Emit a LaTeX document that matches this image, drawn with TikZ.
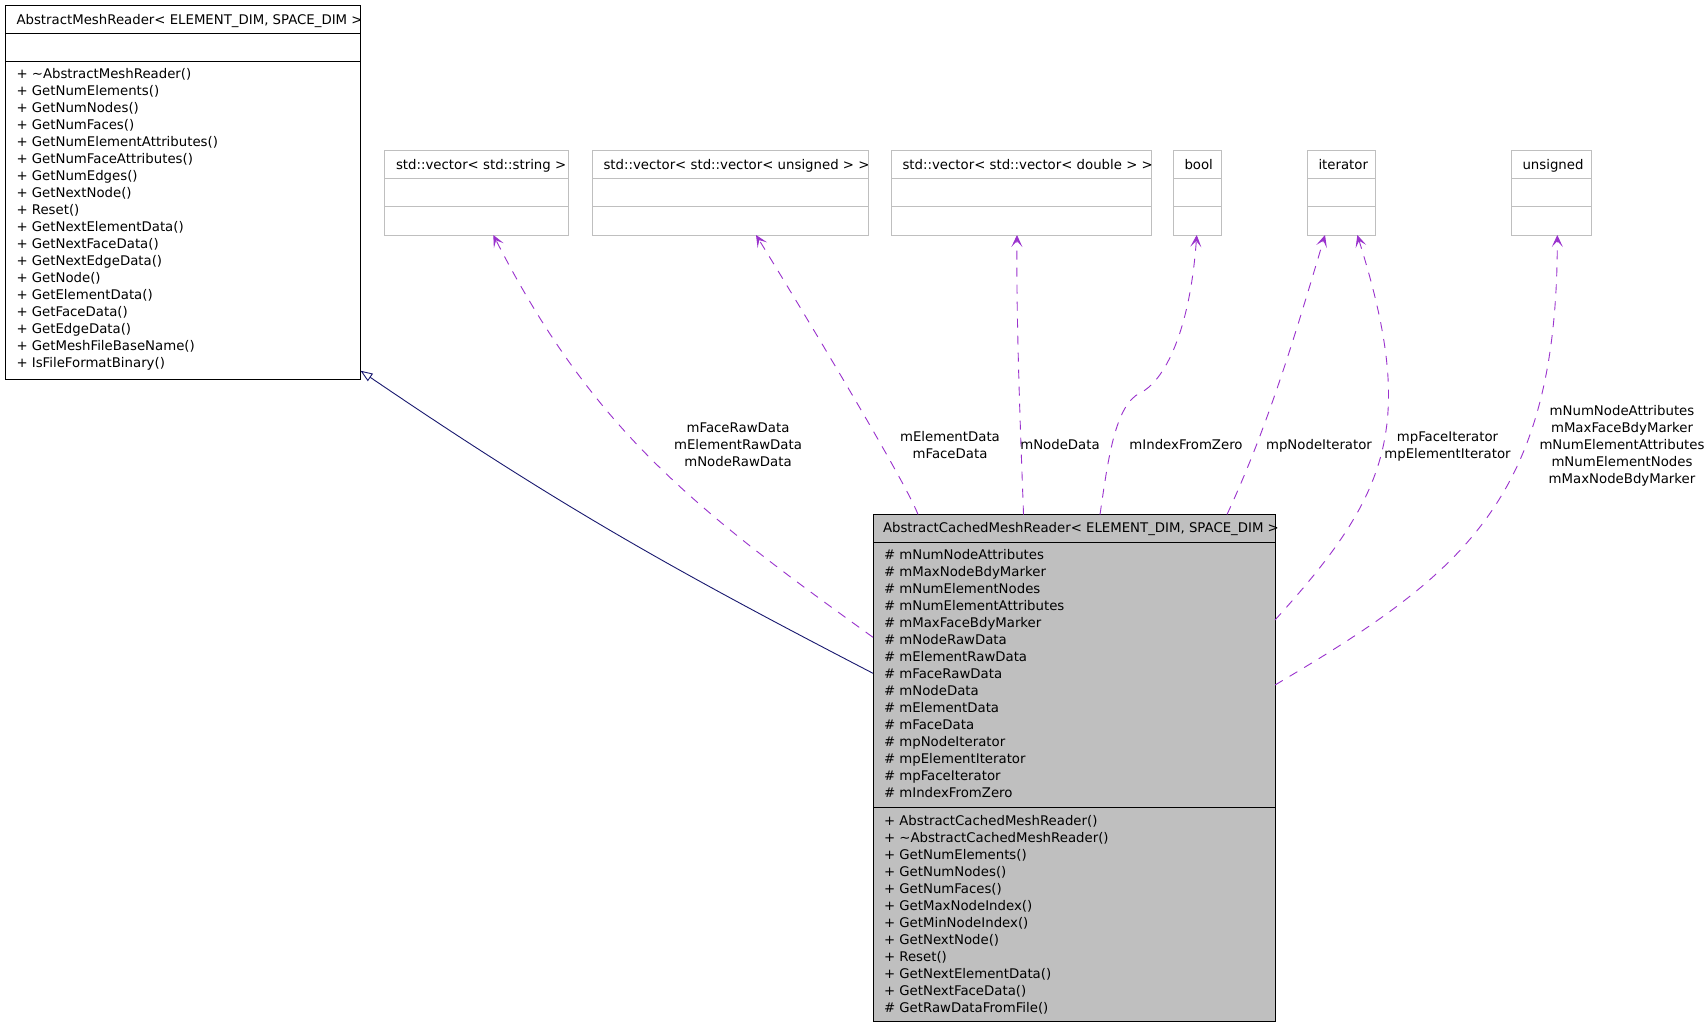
\documentclass[tikz,border=0pt]{standalone}
\usepackage{fontspec}
\setmainfont{DejaVu Sans}
\usetikzlibrary{arrows.meta}
\definecolor{orchid3}{RGB}{154,50,205}
\definecolor{mnblue}{RGB}{25,25,112}
\definecolor{grey75}{RGB}{191,191,191}
\begin{document}
\begin{tikzpicture}[x=1pt,y=-1pt,
  every node/.style={inner sep=0pt, outer sep=0pt, font=\fontsize{13.3}{17}\selectfont},
  classbox/.style={draw=black, line width=1pt, anchor=north west},
  mainbox/.style={classbox, fill=grey75},
  typebox/.style={draw=grey75, line width=1pt, anchor=north west, minimum height=84pt},
  divider/.style={line width=1pt},
  typediv/.style={draw=grey75, line width=1pt},
  hdr/.style={anchor=base west},
  members/.style={anchor=north west, align=left},
  lbl/.style={anchor=north, align=center},
  inh/.style={draw=mnblue, line width=0.9pt, -{Triangle[open, length=12pt, width=9pt, fill=white]}},
  use/.style={draw=orchid3, line width=0.9pt, dash pattern=on 9pt off 8pt, -{Stealth[length=12pt, width=11pt, inset=6pt, line width=0.9pt]}}
]
\useasboundingbox (0,0) rectangle (1707,1027);
\fill[white] (0,0) rectangle (1707,1027);

% ---------- AbstractMeshReader ----------
\node[classbox, minimum width=355pt, minimum height=373pt] (amr) at (5.5,6) {};
\draw[divider] (amr.west |- 0,34) -- (amr.east |- 0,34);
\draw[divider] (amr.west |- 0,62) -- (amr.east |- 0,62);
\node[hdr] (amrh) at (16.5,24.8) {AbstractMeshReader< ELEMENT\_DIM, SPACE\_DIM >};
\node[members] (amrm) at (16.5,66.8) {\rule{0pt}{12pt}+ \textasciitilde AbstractMeshReader()\\
+ GetNumElements()\\
+ GetNumNodes()\\
+ GetNumFaces()\\
+ GetNumElementAttributes()\\
+ GetNumFaceAttributes()\\
+ GetNumEdges()\\
+ GetNextNode()\\
+ Reset()\\
+ GetNextElementData()\\
+ GetNextFaceData()\\
+ GetNextEdgeData()\\
+ GetNode()\\
+ GetElementData()\\
+ GetFaceData()\\
+ GetEdgeData()\\
+ GetMeshFileBaseName()\\
+ IsFileFormatBinary()};

% ---------- AbstractCachedMeshReader ----------
\node[mainbox, minimum width=402pt, minimum height=507pt] (acmr) at (873,514.5) {};
\draw[divider] (acmr.west |- 0,542.5) -- (acmr.east |- 0,542.5);
\draw[divider] (acmr.west |- 0,807) -- (acmr.east |- 0,807);
\node[hdr] (acmrh) at (883,532.5) {AbstractCachedMeshReader< ELEMENT\_DIM, SPACE\_DIM >};
\node[members] (acmra) at (884,547.1) {\rule{0pt}{12pt}\# mNumNodeAttributes\\
\# mMaxNodeBdyMarker\\
\# mNumElementNodes\\
\# mNumElementAttributes\\
\# mMaxFaceBdyMarker\\
\# mNodeRawData\\
\# mElementRawData\\
\# mFaceRawData\\
\# mNodeData\\
\# mElementData\\
\# mFaceData\\
\# mpNodeIterator\\
\# mpElementIterator\\
\# mpFaceIterator\\
\# mIndexFromZero};
\node[members] (acmrm) at (884,813.5) {\rule{0pt}{12pt}+ AbstractCachedMeshReader()\\
+ \textasciitilde AbstractCachedMeshReader()\\
+ GetNumElements()\\
+ GetNumNodes()\\
+ GetNumFaces()\\
+ GetMaxNodeIndex()\\
+ GetMinNodeIndex()\\
+ GetNextNode()\\
+ Reset()\\
+ GetNextElementData()\\
+ GetNextFaceData()\\
\# GetRawDataFromFile()};

% ---------- type boxes ----------
\node[typebox, minimum width=184pt] (vs) at (384.5,151) {};
\node[typebox, minimum width=276pt] (vvu) at (592.5,151) {};
\node[typebox, minimum width=260pt] (vvd) at (891.5,151) {};
\node[typebox, minimum width=48pt] (bool) at (1173.5,151) {};
\node[typebox, minimum width=68pt] (iter) at (1307.5,151) {};
\node[typebox, minimum width=80pt] (uns) at (1511.5,151) {};
\foreach \b in {vs,vvu,vvd,bool,iter,uns}{
  \draw[typediv] (\b.west |- 0,179) -- (\b.east |- 0,179);
  \draw[typediv] (\b.west |- 0,207) -- (\b.east |- 0,207);
}
\node[hdr] (vsh) at (396,169.5) {std::vector< std::string >};
\node[hdr] (vvuh) at (603.5,169.5) {std::vector< std::vector< unsigned > >};
\node[hdr] (vvdh) at (902.5,169.5) {std::vector< std::vector< double > >};
\node[hdr] (boolh) at (1184.5,169.5) {bool};
\node[hdr] (iterh) at (1318.5,169.5) {iterator};
\node[hdr] (unsh) at (1522.5,169.5) {unsigned};

% ---------- connectors ----------
\draw[inh] (acmr.west |- 0,673.3) .. controls (672.5,569.3) and (560.5,506.7) .. (amr.east |- 0,370.7);
\draw[use] (acmr.west |- 0,637.3) .. controls (694.1,508.6) and (593.6,430.8) .. (vs.south -| 493.3,0);
\draw[use] (acmr.north -| 918,0) .. controls (905,480) and (790,290) .. (vvu.south -| 756,0);
\draw[use] (acmr.north -| 1023.5,0) .. controls (1022,470) and (1016,330) .. (vvd.south -| 1017,0);
\coordinate (boolbend) at (1140,393);
\draw[use] (acmr.north -| 1100,0) .. controls (1108,460) and (1115,405) .. (boolbend) .. controls (1165,381) and (1190,330) .. (bool.south -| 1196.7,0);
\draw[use] (acmr.north -| 1227,0) .. controls (1269,424) and (1296,332) .. (iter.south -| 1325,0);
\draw[use] (acmr.east |- 0,620) .. controls (1389.2,494.2) and (1417.3,426) .. (iter.south -| 1357.3,0);
\draw[use] (acmr.east |- 0,685) .. controls (1460.4,575.4) and (1557.3,501) .. (uns.south -| 1557.3,0);

% ---------- connector labels ----------
\node[lbl] (l1) at (738,420.8) {\rule{0pt}{12pt}mFaceRawData\\mElementRawData\\mNodeRawData};
\node[lbl] (l2) at (950,429.5) {\rule{0pt}{12pt}mElementData\\mFaceData};
\node[lbl] (l3) at (1060,437.1) {\rule{0pt}{12pt}mNodeData};
\node[lbl] (l4) at (1186,437.1) {\rule{0pt}{12pt}mIndexFromZero};
\node[lbl] (l5) at (1319,437.1) {\rule{0pt}{12pt}mpNodeIterator};
\node[lbl] (l6) at (1447.5,429.5) {\rule{0pt}{12pt}mpFaceIterator\\mpElementIterator};
\node[lbl] (l7) at (1622,403.3) {\rule{0pt}{12pt}mNumNodeAttributes\\mMaxFaceBdyMarker\\mNumElementAttributes\\mNumElementNodes\\mMaxNodeBdyMarker};
\end{tikzpicture}
\end{document}
